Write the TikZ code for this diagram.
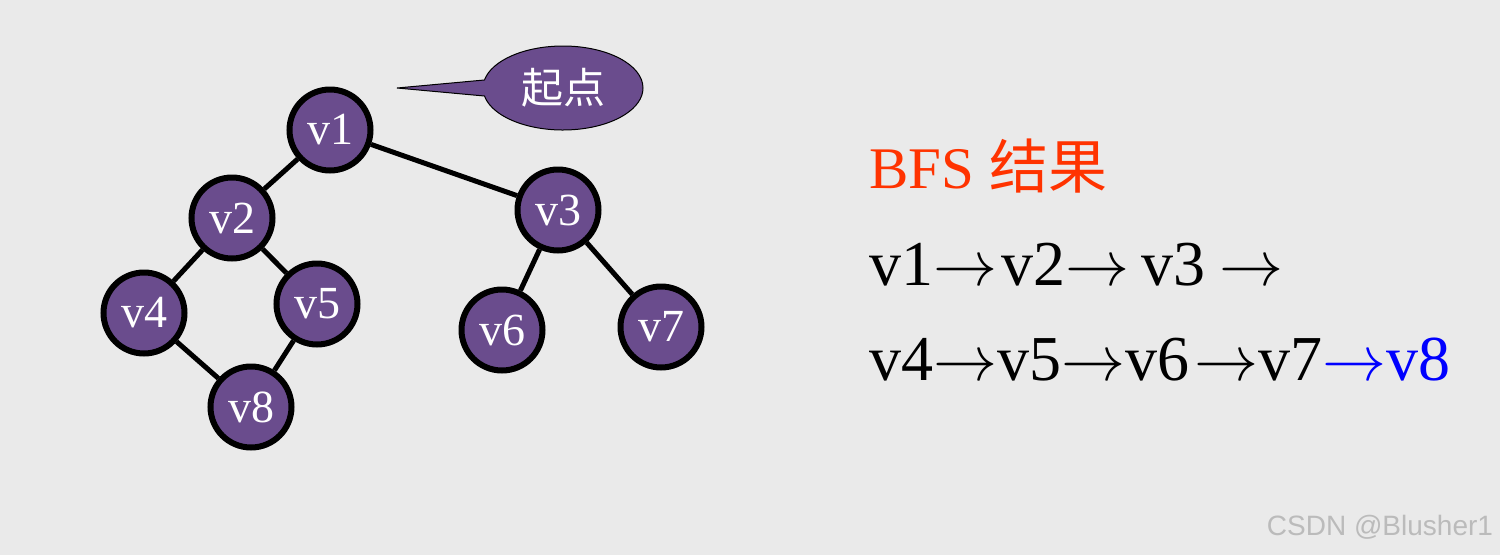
\RequirePackage{fix-cm}
\documentclass[tikz,border=0pt]{standalone}
\usepackage{fontspec}
\setmainfont{Liberation Serif}
\newfontfamily\cjk{Noto Sans CJK SC}
\newfontfamily\wmfont{Liberation Sans}
\usetikzlibrary{shapes.geometric,shapes.callouts}
\definecolor{fond}{HTML}{EAEAEA}
\definecolor{sommetfill}{HTML}{6A4C8D}
\definecolor{titre}{HTML}{FF3300}
\newcommand{\fl}{\ensuremath{\rightarrow}} % fleche longue
\begin{document}
\begin{tikzpicture}[x=1pt,y=-1pt,
    sommet/.style={circle,draw=black,line width=6pt,fill=sommetfill,
      minimum size=81pt,inner sep=0pt,
      text=white,font=\fontsize{46}{46}\selectfont},
    arete/.style={line width=5pt},
    ligne/.style={anchor=base west,font=\fontsize{64}{64}\selectfont}]
    \fill[fond] (0,0) rectangle (1500,555);
    % sommets du graphe
    \foreach \n/\x/\y in {v1/330/130,v2/232/218,v3/558/210,v4/144/313,
                          v5/317/304,v6/502/330,v7/661/327,v8/251/407}
    \node[sommet] (\n) at (\x,\y) {\n};
    % aretes
    \foreach \a/\b in {v1/v2,v1/v3,v2/v4,v2/v5,v3/v6,v3/v7,v4/v8,v5/v8}
    \draw[arete] (\a) -- (\b);
    % bulle "depart"
    \coordinate (pointe) at (397,88);
    \node[ellipse callout,draw=black,line width=1pt,fill=sommetfill,
      minimum width=160pt,minimum height=84pt,inner sep=0pt,
      callout absolute pointer={(pointe)},callout pointer arc=22,
      text=white,font=\cjk\fontsize{42}{42}\selectfont] (depart) at (563,88) {起点};
    % resultat du parcours
    \node[ligne,text=titre,font=\fontsize{59}{59}\selectfont] (titre) at (866,188) {BFS {\cjk 结果}};
    \node[ligne] (ordre1) at (866,285) {v1\fl\kern4pt v2\fl\kern12pt v3\kern14pt\fl};
    \node[ligne] (ordre2) at (866,380) {v4\fl v5\fl v6\kern5pt\fl v7\textcolor{blue}{\fl v8}};
    \node[text=fond!80!black,font=\wmfont\fontsize{28}{28}\selectfont] (marque) at (1380,527) {CSDN @Blusher1};
\end{tikzpicture}
\end{document}
